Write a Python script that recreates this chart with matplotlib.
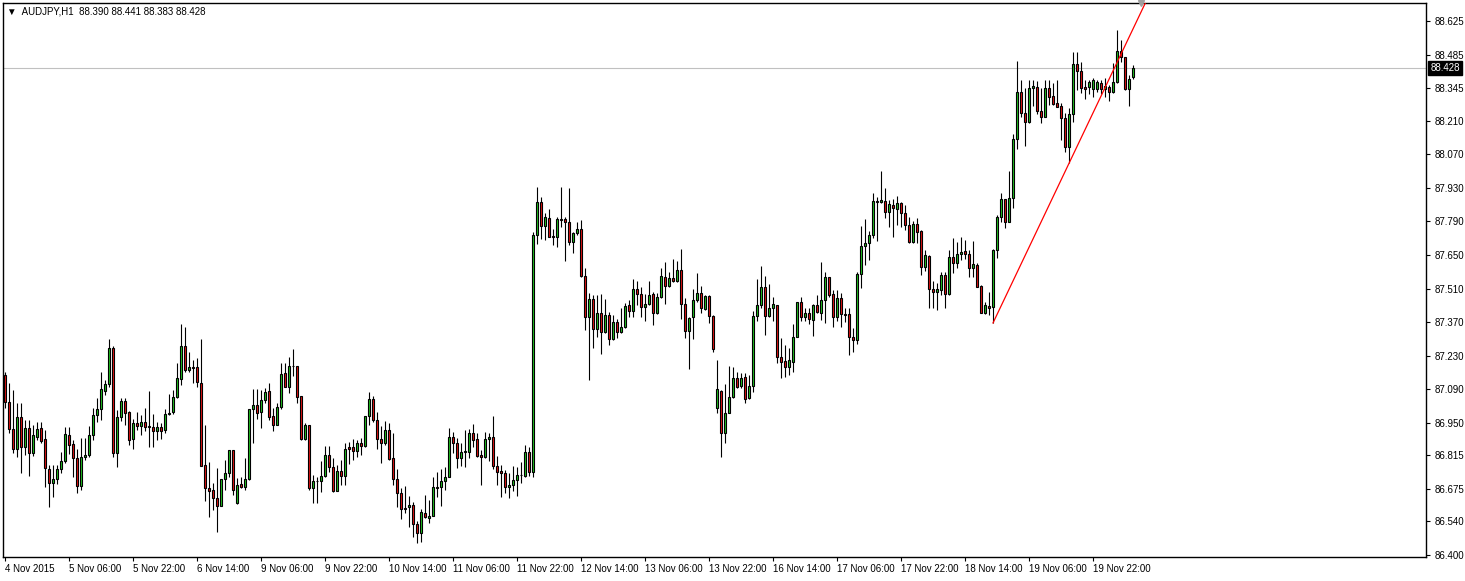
import numpy as np
import matplotlib
matplotlib.use("Agg")
import matplotlib.pyplot as plt
from matplotlib.transforms import blended_transform_factory

plt.rcParams["font.family"] = ["Liberation Sans", "DejaVu Sans"]

# hourly AUDJPY bars, 4 Nov 2015 14:00 -> 20 Nov 2015 08:00
opens = [
    87.150, 87.039, 86.924, 86.844, 86.974, 86.851, 86.928, 86.824, 86.893, 86.928,
    86.882, 86.757, 86.701, 86.719, 86.757, 86.793, 86.900, 86.861, 86.806, 86.689,
    86.810, 86.819, 86.899, 86.982, 87.008, 87.085, 87.112, 87.261, 86.826, 86.974,
    87.042, 86.994, 86.882, 86.949, 86.939, 86.953, 86.937, 86.932, 86.917, 86.932,
    86.921, 86.986, 86.994, 87.060, 87.132, 87.271, 87.171, 87.182, 87.182, 87.115,
    86.775, 86.678, 86.671, 86.636, 86.606, 86.719, 86.740, 86.838, 86.615, 86.696,
    86.682, 86.717, 87.008, 87.025, 86.997, 87.048, 87.083, 86.979, 86.942, 87.018,
    87.157, 87.101, 87.187, 87.187, 87.062, 86.882, 86.942, 86.678, 86.710, 86.708,
    86.729, 86.817, 86.768, 86.668, 86.750, 86.731, 86.851, 86.849, 86.833, 86.865,
    86.854, 86.979, 87.049, 86.962, 86.882, 86.869, 86.921, 86.803, 86.719, 86.657,
    86.597, 86.599, 86.608, 86.529, 86.493, 86.574, 86.553, 86.564, 86.682, 86.682,
    86.708, 86.724, 86.890, 86.865, 86.803, 86.828, 86.828, 86.907, 86.882, 86.817,
    86.807, 86.882, 86.890, 86.772, 86.750, 86.744, 86.682, 86.694, 86.712, 86.733,
    86.729, 86.831, 86.747, 87.733, 87.872, 87.771, 87.803, 87.729, 87.726, 87.799,
    87.799, 87.789, 87.706, 87.740, 87.757, 87.564, 87.393, 87.467, 87.340, 87.407,
    87.331, 87.400, 87.299, 87.372, 87.331, 87.349, 87.442, 87.418, 87.507, 87.486,
    87.435, 87.444, 87.487, 87.410, 87.476, 87.557, 87.522, 87.553, 87.543, 87.587,
    87.444, 87.335, 87.390, 87.462, 87.493, 87.425, 87.479, 87.397, 87.011, 87.085,
    86.907, 86.993, 87.057, 87.136, 87.104, 87.143, 87.053, 87.104, 87.396, 87.442,
    87.515, 87.397, 87.428, 87.442, 87.226, 87.208, 87.185, 87.206, 87.307, 87.453,
    87.393, 87.407, 87.379, 87.442, 87.410, 87.463, 87.557, 87.486, 87.393, 87.469,
    87.403, 87.403, 87.307, 87.296, 87.569, 87.688, 87.701, 87.733, 87.875, 87.872,
    87.875, 87.831, 87.858, 87.840, 87.865, 87.824, 87.775, 87.706, 87.778, 87.750,
    87.599, 87.646, 87.507, 87.497, 87.504, 87.567, 87.486, 87.640, 87.618, 87.653,
    87.667, 87.653, 87.597, 87.608, 87.521, 87.410, 87.437, 87.432, 87.671, 87.810,
    87.883, 87.789, 87.889, 88.132, 88.328, 88.240, 88.206, 88.345, 88.349, 88.251,
    88.226, 88.345, 88.313, 88.282, 88.271, 88.222, 88.099, 88.236, 88.444, 88.418,
    88.349, 88.349, 88.340, 88.340, 88.365, 88.340, 88.349, 88.328, 88.369, 88.500,
    88.474, 88.340, 88.390,
]
highs = [
    87.164, 87.115, 87.087, 87.032, 87.032, 86.962, 86.962, 86.942, 86.956, 86.956,
    86.921, 86.775, 86.775, 86.775, 86.831, 86.935, 86.935, 86.879, 86.844, 86.886,
    86.886, 86.937, 87.011, 87.053, 87.164, 87.129, 87.300, 87.271, 87.004, 87.053,
    87.053, 87.000, 86.965, 86.997, 86.983, 87.011, 87.085, 86.986, 86.956, 86.949,
    87.008, 87.071, 87.087, 87.199, 87.362, 87.351, 87.247, 87.212, 87.219, 87.300,
    86.942, 86.786, 86.699, 86.761, 86.719, 86.796, 86.838, 86.838, 86.722, 86.726,
    86.803, 87.008, 87.092, 87.090, 87.087, 87.094, 87.115, 87.011, 87.032, 87.201,
    87.201, 87.226, 87.257, 87.187, 87.062, 86.949, 86.942, 86.733, 86.726, 86.793,
    86.854, 86.854, 86.803, 86.775, 86.796, 86.865, 86.872, 86.882, 86.879, 86.886,
    86.979, 87.080, 87.062, 86.997, 86.938, 86.958, 86.951, 86.907, 86.758, 86.678,
    86.687, 86.646, 86.622, 86.542, 86.590, 86.650, 86.629, 86.724, 86.747, 86.758,
    86.765, 86.928, 86.914, 86.889, 86.865, 86.921, 86.924, 86.946, 86.907, 86.837,
    86.914, 86.907, 86.979, 86.812, 86.775, 86.754, 86.740, 86.771, 86.765, 86.789,
    86.858, 86.851, 87.747, 87.932, 87.890, 87.824, 87.840, 87.757, 87.807, 87.935,
    87.807, 87.928, 87.747, 87.789, 87.796, 87.594, 87.493, 87.483, 87.483, 87.488,
    87.465, 87.414, 87.400, 87.382, 87.428, 87.451, 87.463, 87.549, 87.542, 87.515,
    87.488, 87.542, 87.497, 87.490, 87.594, 87.619, 87.578, 87.632, 87.626, 87.674,
    87.470, 87.393, 87.507, 87.574, 87.521, 87.483, 87.483, 87.400, 87.213, 87.087,
    87.112, 87.188, 87.185, 87.164, 87.157, 87.157, 87.150, 87.418, 87.550, 87.604,
    87.563, 87.529, 87.476, 87.442, 87.303, 87.275, 87.261, 87.363, 87.453, 87.476,
    87.428, 87.428, 87.446, 87.483, 87.622, 87.581, 87.557, 87.504, 87.504, 87.490,
    87.428, 87.428, 87.344, 87.581, 87.771, 87.799, 87.751, 87.907, 87.890, 88.000,
    87.928, 87.879, 87.882, 87.896, 87.872, 87.858, 87.810, 87.793, 87.803, 87.754,
    87.671, 87.650, 87.543, 87.532, 87.581, 87.581, 87.671, 87.719, 87.706, 87.724,
    87.713, 87.671, 87.708, 87.615, 87.525, 87.456, 87.497, 87.674, 87.817, 87.907,
    87.883, 88.001, 88.154, 88.458, 88.379, 88.345, 88.379, 88.379, 88.376, 88.345,
    88.379, 88.379, 88.365, 88.379, 88.285, 88.240, 88.261, 88.497, 88.497, 88.456,
    88.379, 88.379, 88.386, 88.379, 88.379, 88.386, 88.358, 88.449, 88.587, 88.546,
    88.476, 88.400, 88.441,
]
lows = [
    87.011, 86.910, 86.824, 86.810, 86.743, 86.817, 86.730, 86.812, 86.879, 86.865,
    86.685, 86.601, 86.643, 86.696, 86.740, 86.782, 86.821, 86.726, 86.660, 86.671,
    86.796, 86.810, 86.879, 86.956, 86.962, 87.067, 87.101, 86.810, 86.768, 86.960,
    86.942, 86.858, 86.844, 86.921, 86.900, 86.918, 86.851, 86.851, 86.879, 86.882,
    86.907, 86.982, 86.986, 87.053, 87.108, 87.164, 87.161, 87.115, 87.101, 86.772,
    86.626, 86.560, 86.588, 86.497, 86.606, 86.671, 86.726, 86.650, 86.611, 86.678,
    86.671, 86.712, 86.869, 86.965, 86.928, 87.032, 86.962, 86.918, 86.942, 87.007,
    87.101, 87.076, 87.146, 87.035, 86.879, 86.879, 86.671, 86.618, 86.615, 86.664,
    86.726, 86.747, 86.664, 86.668, 86.692, 86.692, 86.779, 86.796, 86.810, 86.817,
    86.851, 86.942, 86.955, 86.844, 86.782, 86.858, 86.796, 86.692, 86.599, 86.549,
    86.574, 86.515, 86.474, 86.449, 86.456, 86.553, 86.535, 86.564, 86.643, 86.604,
    86.671, 86.724, 86.824, 86.761, 86.771, 86.768, 86.803, 86.851, 86.810, 86.692,
    86.803, 86.793, 86.758, 86.692, 86.640, 86.657, 86.636, 86.668, 86.646, 86.701,
    86.726, 86.729, 86.726, 87.696, 87.715, 87.712, 87.724, 87.692, 87.682, 87.768,
    87.626, 87.692, 87.657, 87.733, 87.560, 87.337, 87.129, 87.261, 87.310, 87.238,
    87.324, 87.275, 87.296, 87.303, 87.324, 87.344, 87.393, 87.393, 87.442, 87.390,
    87.376, 87.442, 87.358, 87.404, 87.469, 87.444, 87.518, 87.539, 87.539, 87.383,
    87.303, 87.174, 87.300, 87.456, 87.410, 87.421, 87.365, 87.247, 86.990, 86.810,
    86.865, 86.990, 87.053, 87.094, 87.094, 87.035, 87.049, 87.081, 87.376, 87.428,
    87.317, 87.393, 87.376, 87.201, 87.136, 87.143, 87.150, 87.164, 87.307, 87.376,
    87.376, 87.361, 87.314, 87.410, 87.379, 87.368, 87.476, 87.351, 87.376, 87.351,
    87.372, 87.233, 87.247, 87.279, 87.514, 87.608, 87.629, 87.719, 87.710, 87.865,
    87.803, 87.768, 87.726, 87.775, 87.765, 87.754, 87.699, 87.699, 87.699, 87.567,
    87.585, 87.428, 87.428, 87.421, 87.483, 87.428, 87.483, 87.576, 87.594, 87.629,
    87.632, 87.557, 87.557, 87.518, 87.407, 87.404, 87.400, 87.367, 87.636, 87.789,
    87.764, 87.789, 87.844, 88.090, 88.224, 88.106, 88.199, 88.271, 88.236, 88.199,
    88.224, 88.275, 88.275, 88.265, 88.129, 88.081, 88.032, 88.206, 88.338, 88.324,
    88.300, 88.321, 88.310, 88.331, 88.321, 88.310, 88.293, 88.326, 88.365, 88.456,
    88.338, 88.271, 88.383,
]
closes = [
    87.039, 86.924, 86.844, 86.974, 86.851, 86.928, 86.826, 86.900, 86.924, 86.876,
    86.761, 86.701, 86.719, 86.757, 86.792, 86.903, 86.858, 86.806, 86.689, 86.810,
    86.819, 86.899, 86.982, 87.008, 87.090, 87.112, 87.261, 86.826, 86.974, 87.043,
    86.990, 86.879, 86.949, 86.939, 86.953, 86.935, 86.932, 86.917, 86.932, 86.918,
    86.986, 86.993, 87.057, 87.136, 87.271, 87.171, 87.182, 87.181, 87.122, 86.772,
    86.678, 86.668, 86.636, 86.606, 86.719, 86.740, 86.838, 86.671, 86.692, 86.685,
    86.719, 87.008, 87.025, 86.993, 87.048, 87.078, 86.976, 86.942, 87.018, 87.153,
    87.101, 87.187, 87.186, 87.060, 86.882, 86.942, 86.678, 86.708, 86.708, 86.729,
    86.817, 86.768, 86.668, 86.750, 86.731, 86.844, 86.844, 86.833, 86.865, 86.854,
    86.979, 87.049, 86.962, 86.882, 86.869, 86.921, 86.800, 86.719, 86.657, 86.592,
    86.590, 86.608, 86.529, 86.493, 86.578, 86.560, 86.563, 86.682, 86.681, 86.708,
    86.724, 86.890, 86.865, 86.803, 86.828, 86.832, 86.907, 86.879, 86.814, 86.807,
    86.882, 86.890, 86.772, 86.747, 86.744, 86.682, 86.694, 86.712, 86.733, 86.732,
    86.831, 86.747, 87.733, 87.872, 87.771, 87.807, 87.726, 87.724, 87.799, 87.797,
    87.789, 87.706, 87.740, 87.757, 87.564, 87.393, 87.467, 87.340, 87.407, 87.331,
    87.400, 87.299, 87.372, 87.331, 87.349, 87.439, 87.418, 87.507, 87.486, 87.432,
    87.444, 87.483, 87.410, 87.474, 87.562, 87.522, 87.553, 87.543, 87.587, 87.444,
    87.333, 87.386, 87.462, 87.493, 87.431, 87.479, 87.397, 87.258, 87.090, 86.907,
    86.993, 87.057, 87.136, 87.101, 87.136, 87.049, 87.104, 87.396, 87.442, 87.515,
    87.397, 87.428, 87.444, 87.226, 87.206, 87.182, 87.212, 87.307, 87.453, 87.393,
    87.407, 87.382, 87.442, 87.414, 87.463, 87.557, 87.483, 87.393, 87.469, 87.403,
    87.401, 87.307, 87.296, 87.569, 87.688, 87.701, 87.733, 87.875, 87.870, 87.879,
    87.831, 87.861, 87.844, 87.865, 87.824, 87.775, 87.703, 87.778, 87.747, 87.599,
    87.650, 87.507, 87.497, 87.507, 87.567, 87.486, 87.640, 87.618, 87.653, 87.661,
    87.653, 87.597, 87.611, 87.518, 87.410, 87.442, 87.428, 87.671, 87.810, 87.882,
    87.789, 87.886, 88.132, 88.328, 88.240, 88.206, 88.345, 88.354, 88.251, 88.226,
    88.345, 88.310, 88.279, 88.268, 88.219, 88.099, 88.236, 88.444, 88.418, 88.344,
    88.342, 88.369, 88.379, 88.369, 88.340, 88.354, 88.328, 88.369, 88.500, 88.474,
    88.340, 88.382, 88.428,
]

time_labels = [
    "4 Nov 2015", "5 Nov 06:00", "5 Nov 22:00", "6 Nov 14:00", "9 Nov 06:00",
    "9 Nov 22:00", "10 Nov 14:00", "11 Nov 06:00", "11 Nov 22:00", "12 Nov 14:00",
    "13 Nov 06:00", "13 Nov 22:00", "16 Nov 14:00", "17 Nov 06:00", "17 Nov 22:00",
    "18 Nov 14:00", "19 Nov 06:00", "19 Nov 22:00",
]
price_ticks = [86.400, 86.540, 86.675, 86.815, 86.950, 87.090, 87.230, 87.370, 87.510,
               87.650, 87.790, 87.930, 88.070, 88.210, 88.345, 88.485, 88.625]
symbol = "AUDJPY,H1"

# trend line anchors (bar index, price)
trend_bars = [247, 266]
trend_prices = [87.367, 88.032]

o = np.array(opens)
h = np.array(highs)
l = np.array(lows)
c = np.array(closes)
x = np.arange(len(c))
up = c >= o

fig = plt.figure(figsize=(14.65, 5.81), dpi=100)
ax = fig.add_axes([3 / 1465, 1 - 557 / 581, 1423 / 1465, 554 / 581])

ax.axhline(c[-1], color="#c0c0c0", lw=0.8, zorder=1)

ax.vlines(x, l, h, color="black", lw=0.8, zorder=2)
ax.bar(x, np.abs(c - o), bottom=np.minimum(o, c), width=0.5,
       color=np.where(up, "#22c322", "#e31414"), edgecolor="black",
       linewidth=0.8, zorder=3)

# ray through the two anchors
slope = (trend_prices[1] - trend_prices[0]) / (trend_bars[1] - trend_bars[0])
tx = np.array([trend_bars[0], 330])
ax.plot(tx, trend_prices[0] + slope * (tx - trend_bars[0]), color="red", lw=0.9, zorder=4)

ax.set_xlim(-0.5, 355.25)
ax.set_ylim(86.392, 88.700)

ax.yaxis.tick_right()
ax.set_yticks(price_ticks)
ax.set_yticklabels([f"{v:.3f}" for v in price_ticks])
ax.tick_params(axis="y", direction="out", length=3, width=0.8, pad=3, labelsize=7)

ax.set_xticks(np.arange(len(time_labels)) * 16)
ax.set_xticklabels(time_labels, ha="left")
ax.tick_params(axis="x", direction="out", length=3, width=0.8, pad=2, labelsize=7)

for s in ax.spines.values():
    s.set_linewidth(1.0)
    s.set_color("black")

trans = blended_transform_factory(ax.transAxes, ax.transData)
ax.text(1.003, c[-1], f"{c[-1]:.3f}", transform=trans, va="center", ha="left",
        color="white", fontsize=7, clip_on=False,
        bbox=dict(boxstyle="square,pad=0.2", fc="black", ec="black"))

header = f"\u25bc  {symbol}  {o[-1]:.3f} {h[-1]:.3f} {l[-1]:.3f} {c[-1]:.3f}"
ax.text(0.003, 0.984, header, transform=ax.transAxes, fontsize=7, va="center", ha="left")

# chart shift marker
ax.plot([284], [88.700], marker="v", color="#a0a0a0", markersize=5, clip_on=False, zorder=5)

fig.savefig("out.png", dpi=100)
